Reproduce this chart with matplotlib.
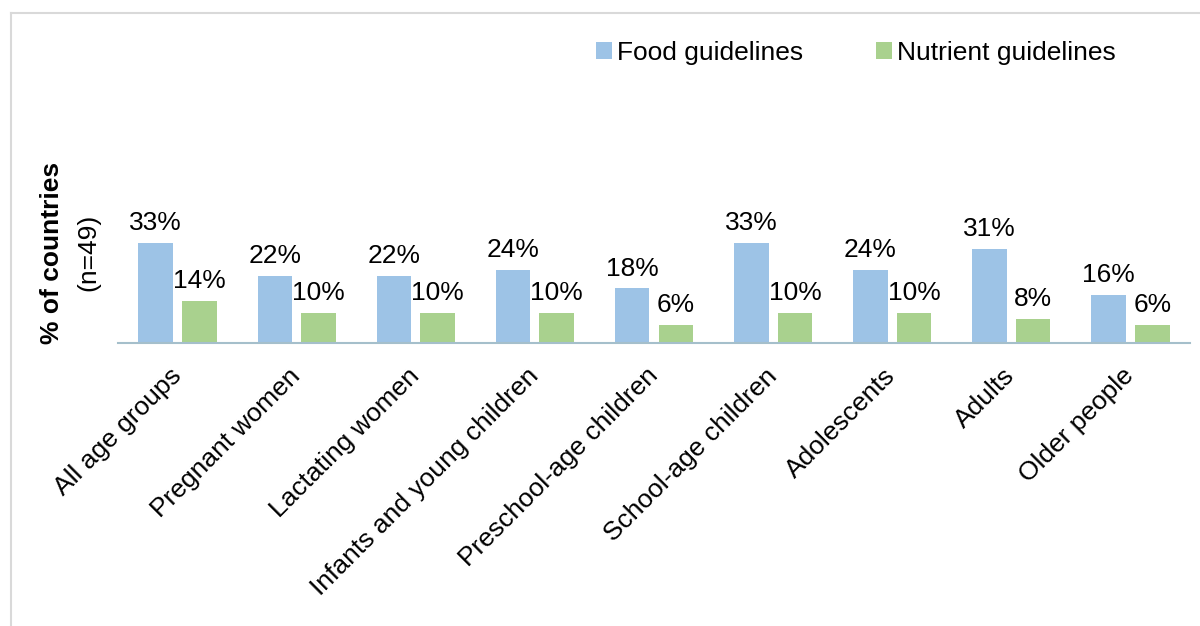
import matplotlib
matplotlib.use("Agg")
import matplotlib.pyplot as plt
import numpy as np

plt.rcParams['font.family'] = ['Liberation Sans', 'DejaVu Sans']

categories = ["All age groups", "Pregnant women", "Lactating women",
              "Infants and young children", "Preschool-age children",
              "School-age children", "Adolescents", "Adults", "Older people"]
food = [33, 22, 22, 24, 18, 33, 24, 31, 16]
nutrient = [14, 10, 10, 10, 6, 10, 10, 8, 6]
series_names = ["Food guidelines", "Nutrient guidelines"]

blue = "#9DC3E6"
green = "#A9D18E"

W, H = 1200, 626
fig = plt.figure(figsize=(W/100, H/100), dpi=100)
ax = fig.add_axes([118/W, (H-343)/H, 1072/W, 303/H])

x = np.arange(len(categories))
bw = 0.29
off = 0.183
b1 = ax.bar(x - off, food, bw, color=blue, label=series_names[0])
b2 = ax.bar(x + off, nutrient, bw, color=green, label=series_names[1])

fs = 19
for xi, v in zip(x, food):
    ax.text(xi - off, v + 2.6, f"{v}%", ha='center', va='bottom', fontsize=fs)
for xi, v in zip(x, nutrient):
    ax.text(xi + off, v + 2.6, f"{v}%", ha='center', va='bottom', fontsize=fs)

ax.set_xlim(-0.5, len(categories) - 0.5)
ax.set_ylim(0, 100)
for s in ['top', 'right', 'left']:
    ax.spines[s].set_visible(False)
ax.spines['bottom'].set_color('#A5BFCB')
ax.spines['bottom'].set_linewidth(1.5)
ax.set_yticks([])
ax.set_xticks(x)
ax.set_xticklabels(categories, rotation=45, ha='right', va='center',
                   rotation_mode='anchor', fontsize=fs)
ax.tick_params(axis='x', length=0, pad=21)

fig.text(52/W, 1 - 253/H, "% of countries", rotation=90, ha='center', va='center',
         fontsize=fs, fontweight='bold')
fig.text(88/W, 1 - 252/H, "(n=49)", rotation=90, ha='center', va='center', fontsize=fs)

fig.legend(handles=[b1, b2], labels=series_names, loc='center', bbox_to_anchor=(856/W, 1 - 53/H),
           ncol=2, frameon=False, fontsize=fs, handlelength=0.6, handleheight=0.6,
           handletextpad=0.2, columnspacing=2.75)

# border lines
fig.add_artist(plt.Line2D([11/W, 11/W], [0, 1 - 13/H], color='#D9D9D9', lw=1.5, transform=fig.transFigure))
fig.add_artist(plt.Line2D([11/W, 1], [1 - 13/H, 1 - 13/H], color='#D9D9D9', lw=1.5, transform=fig.transFigure))

fig.savefig("out.png", dpi=100)
